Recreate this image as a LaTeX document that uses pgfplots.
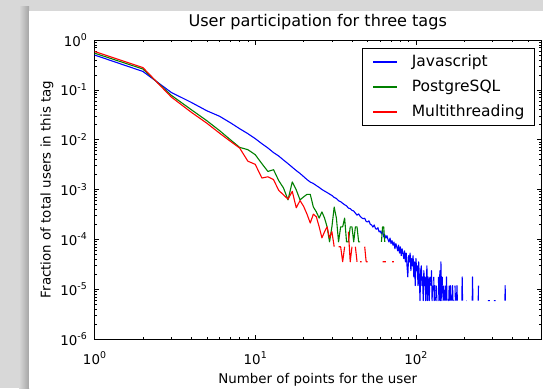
\documentclass[border=0pt]{standalone}
\usepackage{pgfplots}
\pgfplotsset{compat=1.18}
\usepackage{fontspec}
\setmainfont{DejaVu Sans}
\definecolor{bggray}{RGB}{216,216,216}
\definecolor{shadowgray}{RGB}{165,165,165}
\definecolor{mplgreen}{RGB}{0,128,0}
\newcommand\sups[1]{\raisebox{5.6pt}{\fontsize{9.4}{10}\selectfont #1}}
\newcommand\tl[1]{10\sups{#1}}
\begin{document}
\begin{tikzpicture}[x=1pt,y=1pt]
\useasboundingbox (0,0) rectangle (543,388);
\fill[bggray] (0,0) rectangle (543,388);
\shade[left color=bggray, right color=shadowgray] (19,0) rectangle (29,381);
\fill[white] (29,0) rectangle (543,377);
\begin{axis}[
  at={(94.5pt,49pt)}, anchor=south west,
  width=446.5pt, height=299pt, scale only axis,
  xmode=log, ymode=log,
  xmin=1, xmax=600, ymin=1e-6, ymax=1,
  unbounded coords=jump,
  axis line style={black, line width=1pt},
  tick align=inside,
  major tick length=4.5pt, minor tick length=2.2pt,
  tick style={black, line width=0.6pt},
  xtick={1,10,100},
  xticklabels={\tl{0},\tl{1},\tl{2}},
  minor xtick={2,3,4,5,6,7,8,9,20,30,40,50,60,70,80,90,200,300,400,500,600},
  ytick={1e-6,1e-5,1e-4,1e-3,1e-2,1e-1,1},
  yticklabels={\tl{-6},\tl{-5},\tl{-4},\tl{-3},\tl{-2},\tl{-1},\tl{0}},
  minor ytick={2e-6,3e-6,4e-6,5e-6,6e-6,7e-6,8e-6,9e-6,
               2e-5,3e-5,4e-5,5e-5,6e-5,7e-5,8e-5,9e-5,
               2e-4,3e-4,4e-4,5e-4,6e-4,7e-4,8e-4,9e-4,
               2e-3,3e-3,4e-3,5e-3,6e-3,7e-3,8e-3,9e-3,
               2e-2,3e-2,4e-2,5e-2,6e-2,7e-2,8e-2,9e-2,
               0.2,0.3,0.4,0.5,0.6,0.7,0.8,0.9},
  xticklabel style={font=\fontsize{13.4}{16}\selectfont, anchor=base, inner sep=0pt, yshift=-25pt},
  yticklabel style={font=\fontsize{13.4}{16}\selectfont, anchor=east, inner sep=0pt, xshift=-7.5pt},
  title={User participation for three tags},
  title style={font=\fontsize{16.1}{19}\selectfont, at={(axis description cs:0.5,1)}, anchor=base, inner sep=0pt, yshift=7.8pt},
  xlabel={Number of points for the user},
  xlabel style={font=\fontsize{13.4}{16}\selectfont, at={(axis description cs:0.5,0)}, anchor=base, inner sep=0pt, yshift=-44.5pt},
  ylabel={Fraction of total users in this tag},
  ylabel style={font=\fontsize{13.4}{16}\selectfont, at={(axis description cs:-0.0985,0.5)}, anchor=base, inner sep=0pt},
  legend style={at={(axis description cs:1,1)}, anchor=north east, xshift=-6pt, yshift=-8pt,
    draw=black, line width=1pt, fill=white,
    font=\fontsize{15.5}{18}\selectfont,
    inner xsep=10pt, inner ysep=6pt, row sep=10pt, column sep=14pt,
    nodes={inner sep=0pt, text height=11.5pt, text depth=3.5pt}},
  legend cell align=left,
  legend image code/.code={\draw[#1, line width=1.1pt] (0pt,0pt) -- (24pt,0pt);},
]
\addplot[blue, line width=1.1pt, line join=round] coordinates {
(1,0.50) (2,0.234) (3,0.089) (4,0.056) (5,0.038) (6,0.0295) (7,0.0219) (8,0.0166) (9,0.0132) (10,0.0105)
(11,0.0083) (12,0.0068) (13,0.0055) (14,0.0047) (15,0.0039) (16,0.0033) (17,0.0028) (18,0.0024) (19,0.0021) (20,0.00182)
(21,0.00158) (22,0.00141) (23,0.00132) (24,0.00120) (25,0.00110) (26,0.00100) (27,0.00093) (28,0.00087) (29,0.00081) (30,0.00076)
(31,6.94e-4) (32,6.59e-4) (33,5.94e-4) (34,5.70e-4) (35,5.29e-4) (36,4.94e-4) (37,4.70e-4) (38,4.23e-4) (39,4.12e-4) (40,3.82e-4)
(41,3.70e-4) (42,3.35e-4) (43,3.06e-4) (44,3.23e-4) (45,2.88e-4) (46,2.70e-4) (47,2.59e-4) (48,2.65e-4) (49,2.29e-4) (50,2.23e-4)
(51,2.35e-4) (52,2.00e-4) (53,1.94e-4) (54,1.76e-4) (55,1.94e-4) (56,1.65e-4) (57,1.59e-4) (58,1.71e-4) (59,1.41e-4) (60,1.47e-4)
(61,1.29e-4) (62,1.53e-4) (63,1.12e-4) (64,1.23e-4) (65,1.06e-4) (66,1.18e-4) (67,1.00e-4) (68,8.82e-5) (69,1.06e-4) (70,8.23e-5)
(71,9.41e-5) (72,7.64e-5) (73,8.82e-5) (74,6.47e-5) (75,8.23e-5) (76,7.06e-5) (77,5.88e-5) (78,7.64e-5) (79,5.29e-5) (80,7.06e-5)
(81,4.70e-5) (82,6.47e-5) (83,5.29e-5) (84,4.12e-5) (85,5.88e-5) (86,3.53e-5) (87,5.29e-5) (88,2.94e-5) (89,1.76e-5) (90,4.70e-5)
(91,3.53e-5) (92,5.29e-5) (93,2.35e-5) (94,4.12e-5) (95,2.94e-5) (96,4.70e-5) (97,1.76e-5) (98,3.53e-5) (99,1.18e-5) (100,4.12e-5)
(101,2.35e-5) (102,2.94e-5) (103,1.18e-5) (104,3.53e-5) (105,1.76e-5) (106,5.88e-6) (107,2.35e-5) (108,2.94e-5) (109,1.18e-5) (110,1.76e-5)
(111,5.88e-6) (112,2.35e-5) (113,1.18e-5) (114,1.76e-5) (115,5.88e-6) (116,1.18e-5) (117,2.94e-5) (118,5.88e-6) (119,1.76e-5) (120,1.18e-5)
(121,5.88e-6) (122,1.76e-5) (123,nan) (124,1.18e-5) (125,2.35e-5) (126,5.88e-6) (127,1.18e-5) (128,nan) (129,1.76e-5) (130,5.88e-6)
(131,1.18e-5) (132,5.88e-6) (133,nan) (134,1.18e-5) (135,5.88e-6) (136,5.88e-6) (137,nan) (138,1.76e-5) (139,5.88e-6) (140,1.18e-5)
(141,2.35e-5) (142,5.88e-6) (143,3.53e-5) (144,1.18e-5) (145,5.88e-6) (146,1.76e-5) (147,nan) (148,1.18e-5) (149,5.88e-6) (150,nan)
(151,5.88e-6) (152,1.18e-5) (153,nan) (154,5.88e-6) (155,1.76e-5) (156,5.88e-6) (157,nan) (159,5.88e-6) (160,5.88e-6)
(161,1.18e-5) (162,nan) (163,5.88e-6) (164,1.18e-5) (165,5.88e-6) (166,nan) (168,5.88e-6) (169,1.18e-5) (170,5.88e-6)
(171,nan) (172,5.88e-6) (173,5.88e-6) (174,nan) (175,1.18e-5) (176,5.88e-6) (177,nan) (179,5.88e-6) (180,1.18e-5)
(181,5.88e-6) (182,nan) (193,5.88e-6) (194,1.76e-5) (195,5.88e-6) (196,nan) (205,5.88e-6) (206,5.88e-6) (207,nan)
(224,5.88e-6) (225,1.76e-5) (226,5.88e-6) (227,nan) (244,5.88e-6) (245,1.18e-5) (246,nan)
(280,5.88e-6) (282,5.88e-6) (284,5.88e-6) (286,5.88e-6) (288,5.88e-6) (289,nan)
(305,5.88e-6) (307,5.88e-6) (309,5.88e-6) (311,5.88e-6) (313,5.88e-6) (314,nan)
(358,5.88e-6) (359,1.18e-5) (360,5.88e-6)
};
\addlegendentry{Javascript}
\addplot[mplgreen, line width=1.1pt, line join=round] coordinates {
(1,0.545) (2,0.262) (3,0.078) (4,0.040) (5,0.024) (6,0.0152) (7,0.0100) (8,0.0070) (9,0.0063) (10,0.0050)
(11,0.0033) (12,0.0023) (13,0.0025) (14,1.51e-3) (15,1.07e-3) (16,6.2e-4) (17,1.42e-3) (18,9.8e-4) (19,6.2e-4) (20,7.1e-4)
(21,8.0e-4) (22,8.0e-4) (23,4.45e-4) (24,3.56e-4) (25,2.67e-4) (26,3.56e-4) (27,2.67e-4) (28,1.78e-4) (29,8.9e-5) (30,1.78e-4)
(31,4.45e-4) (32,2.67e-4) (33,8.9e-5) (34,1.78e-4) (35,1.78e-4) (36,2.67e-4) (37,8.9e-5) (38,8.9e-5) (39,1.78e-4) (40,1.78e-4)
(41,8.9e-5) (42,1.78e-4) (43,1.78e-4) (44,8.9e-5) (45,8.9e-5) (46,nan)
(61,8.9e-5) (62,1.78e-4) (63,1.78e-4) (64,8.9e-5)
};
\addlegendentry{PostgreSQL}
\addplot[red, line width=1.1pt, line join=round] coordinates {
(1,0.59) (2,0.28) (3,0.072) (4,0.0355) (5,0.0214) (6,0.0135) (7,0.0093) (8,0.0068) (9,0.0037) (10,0.0032)
(11,0.0017) (12,0.0018) (13,0.00158) (14,9.6e-4) (15,7.8e-4) (16,6.4e-4) (17,9.2e-4) (18,4.3e-4) (19,6.0e-4) (20,4.6e-4)
(21,3.2e-4) (22,2.13e-4) (23,3.2e-4) (24,2.84e-4) (25,1.78e-4) (26,1.07e-4) (27,1.42e-4) (28,1.78e-4) (29,1.07e-4) (30,1.42e-4)
(31,7.1e-5) (32,nan) (33,7.1e-5) (34,7.1e-5) (35,3.55e-5) (36,7.1e-5) (37,nan) (38,1.42e-4) (39,3.55e-5) (40,7.1e-5)
(41,nan) (42,7.1e-5) (43,3.55e-5) (44,nan) (45,3.55e-5) (46,3.55e-5) (47,nan) (48,7.1e-5) (49,3.55e-5) (50,3.55e-5) (51,nan)
(62,3.55e-5) (63,3.55e-5) (64,3.55e-5) (65,3.55e-5) (66,nan) (71,3.55e-5) (72,3.55e-5) (73,3.55e-5)
};
\addlegendentry{Multithreading}
\end{axis}
\end{tikzpicture}
\end{document}
